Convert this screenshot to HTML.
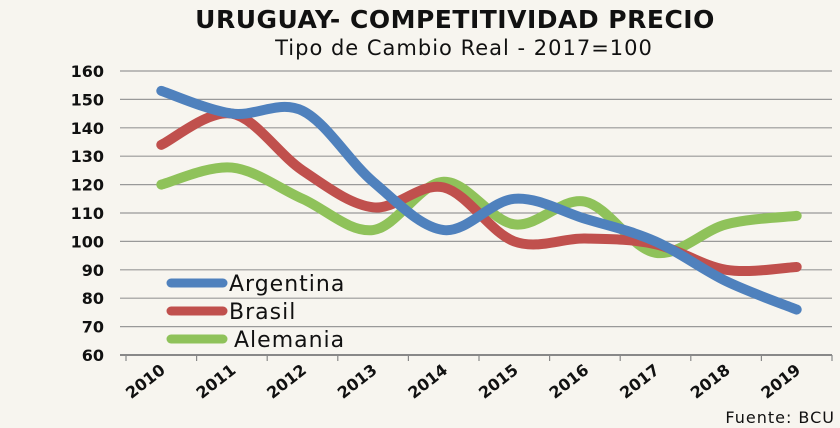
<!DOCTYPE html>
<html><head><meta charset="utf-8"><style>
html,body{margin:0;padding:0;background:#f7f5ef;}
svg{display:block}
text{font-family:"DejaVu Sans","Liberation Sans",sans-serif;fill:#111}
</style></head><body>
<svg id="s" width="840" height="428" viewBox="0 0 840 428" xmlns="http://www.w3.org/2000/svg">
<rect width="840" height="428" fill="#f7f5ef"/>
<text x="455" y="28" font-size="25" font-weight="bold" text-anchor="middle" letter-spacing="0.5">URUGUAY- COMPETITIVIDAD PRECIO</text>
<text x="464" y="55" font-size="21" text-anchor="middle" letter-spacing="1">Tipo de Cambio Real - 2017=100</text>
<g id="grid" stroke="#888" stroke-width="1.2"></g>
<g id="lab" font-size="16" font-weight="bold" text-anchor="end"></g>
<g id="xl" font-size="16" font-weight="bold"></g>
<g id="ser" fill="none" stroke-width="10" stroke-linecap="round" stroke-linejoin="round"></g>
<line x1="171" y1="283" x2="223" y2="283" stroke="#4f81bd" stroke-width="9" stroke-linecap="round"/>
<text x="229" y="291" font-size="22" letter-spacing="1">Argentina</text>
<line x1="171" y1="311" x2="223" y2="311" stroke="#c0504d" stroke-width="9" stroke-linecap="round"/>
<text x="229" y="319" font-size="22" letter-spacing="1">Brasil</text>
<line x1="171" y1="339" x2="223" y2="339" stroke="#8fc25a" stroke-width="9" stroke-linecap="round"/>
<text x="234" y="347" font-size="22" letter-spacing="1">Alemania</text>
<text x="835" y="423" font-size="16" text-anchor="end" letter-spacing="1">Fuente: BCU</text>
</svg>
<script>
var NS="http://www.w3.org/2000/svg";
function el(p,t,a,txt){var e=document.createElementNS(NS,t);for(var k in a)e.setAttribute(k,a[k]);if(txt!=null)e.textContent=txt;document.getElementById(p).appendChild(e);}
function Y(v){return 355-(v-60)*2.84;}
for(var v=60;v<=160;v+=10){
 el("grid","line",{x1:120,x2:832,y1:Y(v),y2:Y(v),stroke:v==60?"#888":"#999","stroke-width":v==60?2:1.2});
 el("lab","text",{x:104,y:Y(v)+6},v);
}
for(var i=0;i<=10;i++){var x=126+i*70.6;el("grid","line",{x1:x,x2:x,y1:355,y2:361});}
for(var i=0;i<10;i++){var cx=161.3+i*70.6;el("xl","text",{transform:"translate("+(cx+5)+",372) rotate(-38)","text-anchor":"end"},2010+i);}
var D={"#4f81bd":[153,145,146,121,104,115,108,100,86,76],"#c0504d":[134,145,125,112,119,100,101,99,90,91],"#8fc25a":[120,126,115,104,121,106,114,96,106,109]};
var order=["#8fc25a","#c0504d","#4f81bd"];
order.forEach(function(c){var d=D[c];var P=d.map(function(v,i){return [161.3+i*70.6,Y(v)];});
 var s="M"+P[0][0]+","+P[0][1];
 for(var i=0;i<P.length-1;i++){var p0=P[Math.max(i-1,0)],p1=P[i],p2=P[i+1],p3=P[Math.min(i+2,P.length-1)];var t=6;
  s+=" C"+(p1[0]+(p2[0]-p0[0])/t)+","+(p1[1]+(p2[1]-p0[1])/t)+" "+(p2[0]-(p3[0]-p1[0])/t)+","+(p2[1]-(p3[1]-p1[1])/t)+" "+p2[0]+","+p2[1];}
 el("ser","path",{d:s,stroke:c});});
</script>
</body></html>
